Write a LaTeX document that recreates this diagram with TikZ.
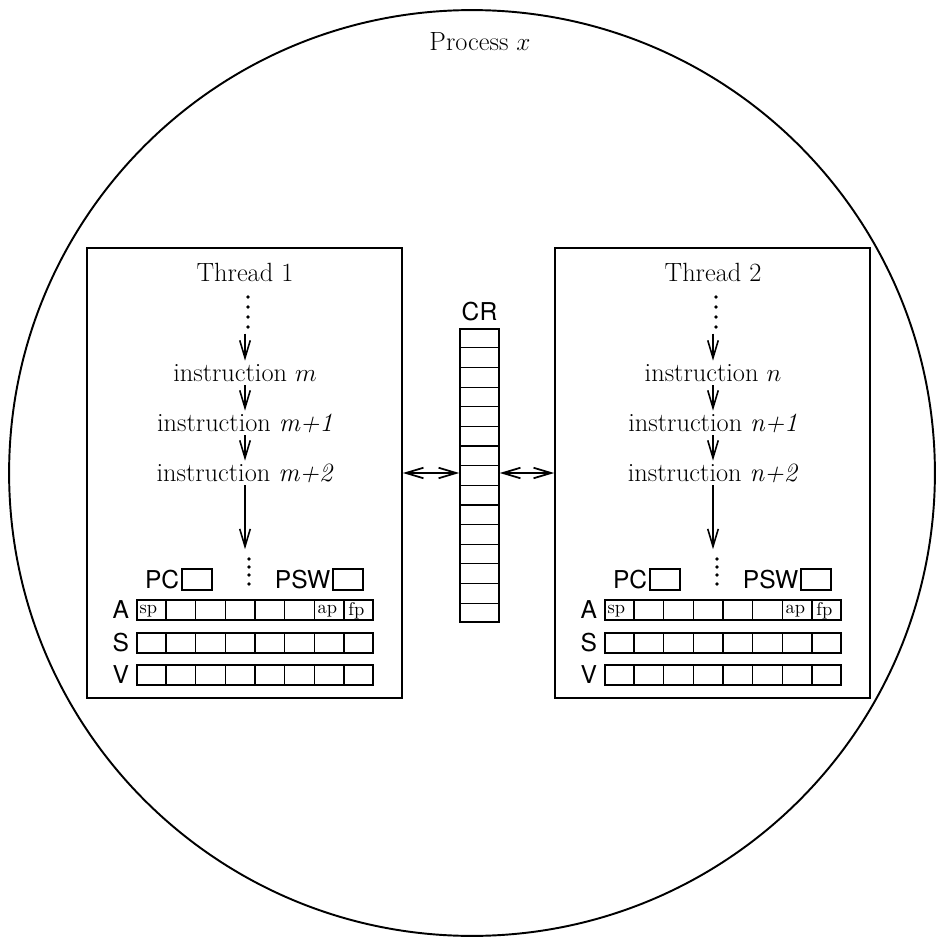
\documentclass[tikz,border=0pt]{standalone}
\usepackage{fontspec}
\setsansfont{TeX Gyre Heros}
\usetikzlibrary{arrows.meta,calc,positioning}

\begin{document}
\begin{tikzpicture}[
    x=0.02cm, y=-0.02cm,
    process/.style={
        circle,
        draw,
        line width=1.1pt,
        minimum size=18.52cm,
        inner sep=0pt
    },
    thread/.style={
        rectangle,
        draw,
        line width=1pt,
        minimum width=6.3cm,
        minimum height=9cm,
        inner sep=0pt
    },
    title/.style={
        font=\fontsize{15}{18}\selectfont
    },
    instr/.style={
        font=\fontsize{15}{18}\selectfont,
        inner sep=0pt,
        text height=10.5pt,
        text depth=0pt
    },
    flow/.style={
        -{Straight Barb[length=10pt,width=6pt]},
        line width=0.9pt,
        shorten <=2pt,
        shorten >=1pt
    },
    link/.style={
        {Straight Barb[length=10pt,width=6pt]}-{Straight Barb[length=10pt,width=6pt]},
        line width=1pt
    },
    dot/.style={
        circle,
        fill,
        inner sep=0pt,
        minimum size=2.2pt
    },
    reglabel/.style={
        font=\sffamily\fontsize{14}{16}\selectfont,
        inner sep=0pt
    },
    regbox/.style={
        rectangle,
        draw,
        line width=0.8pt,
        minimum width=0.6cm,
        minimum height=0.42cm,
        inner sep=0pt
    },
    regrow/.style={
        rectangle,
        draw,
        line width=0.8pt,
        minimum width=4.72cm,
        minimum height=0.4cm,
        inner sep=0pt
    },
    regtag/.style={
        font=\fontsize{10.5}{12}\selectfont,
        inner sep=0pt,
        anchor=west
    },
    crcol/.style={
        rectangle,
        draw,
        line width=0.9pt,
        minimum width=0.78cm,
        minimum height=5.86cm,
        inner sep=0pt
    },
    cellline/.style={
        line width=0.7pt
    }
]
\useasboundingbox (0,0) rectangle (937,939);

% Process circle
\node[process] (proc) at (472, 473) {};
\node[title] (ptitle) at (480, 42) {Process $x$};

% Thread 1
\node[thread] (t1) at (244.5, 473) {};
\node[title] (h1) at (245, 272) {Thread 1};
\foreach \y in {297,307,317,327} \node[dot] at (248,\y) {};
\coordinate (u1) at (245, 330);
\node[instr] (i11) at (245, 372) {instruction $m$};
\node[instr] (i12) at (245, 422) {instruction \textit{m+1}};
\node[instr] (i13) at (245, 472) {instruction \textit{m+2}};
\coordinate (l1) at (245, 551);
\draw[flow] (u1) -- (i11);
\draw[flow] (i11) -- (i12);
\draw[flow] (i12) -- (i13);
\draw[flow] (i13) -- (l1);
\foreach \y in {559,567,575,584} \node[dot] at (249,\y) {};

% Thread 1 registers
\node[regbox] (pc1) at (197, 579.5) {};
\node[reglabel, left=1pt of pc1] (pc1l) {PC};
\node[regbox] (psw1) at (348, 579.5) {};
\node[reglabel, left=1pt of psw1] (psw1l) {PSW};
\node[regrow] (a1) at (255, 610) {};
\node[regrow] (s1) at (255, 643) {};
\node[regrow] (v1) at (255, 675) {};
\node[reglabel, left=4pt of a1] (a1l) {A};
\node[reglabel, left=4pt of s1] (s1l) {S};
\node[reglabel, left=4pt of v1] (v1l) {V};
\node[regtag] (sp1) at ($(a1.west)!0/8!(a1.east)+(3,1)$) {sp};
\node[regtag] (ap1) at ($(a1.west)!6/8!(a1.east)+(3,1)$) {ap};
\node[regtag] (fp1) at ($(a1.west)!7/8!(a1.east)+(4,1)$) {fp};

% Thread 2
\node[thread] (t2) at (712.5, 473) {};
\node[title] (h2) at (713, 272) {Thread 2};
\foreach \y in {297,307,317,327} \node[dot] at (716,\y) {};
\coordinate (u2) at (713, 330);
\node[instr] (i21) at (713, 372) {instruction $n$};
\node[instr] (i22) at (713, 422) {instruction \textit{n+1}};
\node[instr] (i23) at (713, 472) {instruction \textit{n+2}};
\coordinate (l2) at (713, 551);
\draw[flow] (u2) -- (i21);
\draw[flow] (i21) -- (i22);
\draw[flow] (i22) -- (i23);
\draw[flow] (i23) -- (l2);
\foreach \y in {559,567,575,584} \node[dot] at (717,\y) {};

% Thread 2 registers
\node[regbox] (pc2) at (665, 579.5) {};
\node[reglabel, left=1pt of pc2] (pc2l) {PC};
\node[regbox] (psw2) at (816, 579.5) {};
\node[reglabel, left=1pt of psw2] (psw2l) {PSW};
\node[regrow] (a2) at (723, 610) {};
\node[regrow] (s2) at (723, 643) {};
\node[regrow] (v2) at (723, 675) {};
\node[reglabel, left=4pt of a2] (a2l) {A};
\node[reglabel, left=4pt of s2] (s2l) {S};
\node[reglabel, left=4pt of v2] (v2l) {V};
\node[regtag] (sp2) at ($(a2.west)!0/8!(a2.east)+(3,1)$) {sp};
\node[regtag] (ap2) at ($(a2.west)!6/8!(a2.east)+(3,1)$) {ap};
\node[regtag] (fp2) at ($(a2.west)!7/8!(a2.east)+(4,1)$) {fp};

% Register cells
\foreach \r in {a1,s1,v1,a2,s2,v2}
    \foreach \k in {1,...,7}
        \draw[cellline] ($(\r.north west)!\k/8!(\r.north east)$) -- ($(\r.south west)!\k/8!(\r.south east)$);

% Shared CR column
\node[crcol] (cr) at (479.5, 475.5) {};
\node[reglabel, above=4pt of cr] (crl) {CR};
\foreach \k in {1,...,14}
    \draw[cellline] ($(cr.north west)!\k/15!(cr.south west)$) -- ($(cr.north east)!\k/15!(cr.south east)$);

% Links to CR
\draw[link] (t1.east) -- (cr.west |- t1.east);
\draw[link] (cr.east |- t2.west) -- (t2.west);

\end{tikzpicture}
\end{document}
